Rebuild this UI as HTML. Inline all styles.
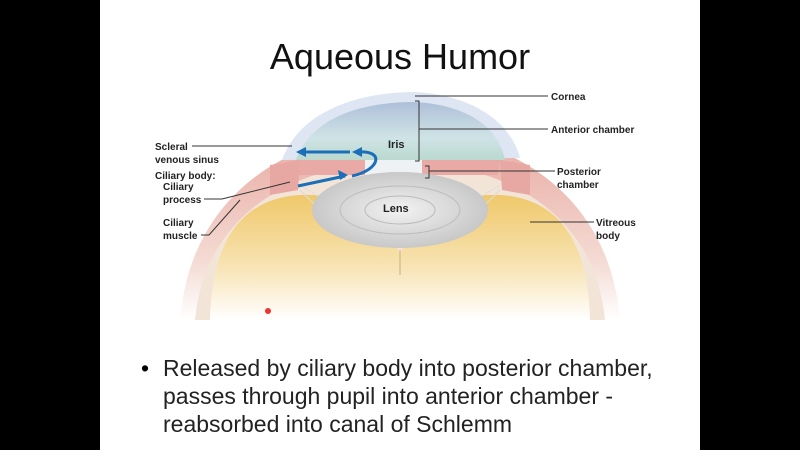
<!DOCTYPE html>
<html><head><style>
body{margin:0;width:800px;height:450px;background:#000;overflow:hidden;font-family:"Liberation Sans",sans-serif}
#s{position:absolute;left:100px;top:0;width:600px;height:450px;background:#fff}
.t{position:absolute;left:0;width:800px;text-align:center;top:36px;font-size:36px;color:#111}
.b{position:absolute;left:163px;top:354px;font-size:23px;line-height:28px;color:#222;white-space:nowrap}
.d{position:absolute;left:141px;top:354px;font-size:23px;line-height:28px}
</style></head><body>
<div id="s"></div>
<svg width="800" height="450" style="position:absolute;left:0;top:0">
<defs>
<linearGradient id="vy" x1="0" y1="0" x2="0" y2="1"><stop offset="0" stop-color="#efc86a"/><stop offset="0.55" stop-color="#f7e2b0"/><stop offset="1" stop-color="#fff"/></linearGradient>
<linearGradient id="sc" x1="0" y1="0" x2="0" y2="1"><stop offset="0" stop-color="#e8a8a0"/><stop offset="0.7" stop-color="#f4dcd4"/><stop offset="1" stop-color="#fff"/></linearGradient>
<linearGradient id="ac" x1="0" y1="0" x2="0" y2="1"><stop offset="0" stop-color="#aebfd8"/><stop offset="0.6" stop-color="#cfe3e6"/><stop offset="1" stop-color="#b8d8cc"/></linearGradient>
<radialGradient id="ln"><stop offset="0" stop-color="#f2f2f2"/><stop offset="1" stop-color="#c8c8c8"/></radialGradient>
</defs>
<path d="M180,320 C190,200 280,135 400,130 C520,135 610,200 620,320 Z" fill="url(#sc)"/>
<path d="M195,320 C205,215 290,165 400,160 C510,165 595,215 605,320 Z" fill="#f3e4d8"/>
<path d="M210,320 C212,230 250,198 300,195 C350,193 385,215 400,255 C415,215 450,193 500,195 C550,198 588,230 590,320 Z" fill="url(#vy)"/>
<path d="M400,250 L400,275" stroke="#d9c08a" stroke-width="1.5"/>
<path d="M282,160 C300,110 360,92 415,92 C470,95 510,120 520,158 Z" fill="#dde6f2"/>
<path d="M295,162 C310,118 360,102 415,102 C465,105 498,125 505,160 Z" fill="url(#ac)"/>
<path d="M295,160 L365,160 L368,175 L296,175 Z" fill="#e9a9a4"/>
<path d="M420,160 L500,160 L498,175 L422,175 Z" fill="#e9a9a4"/>
<path d="M270,165 L300,160 L298,190 L270,195 Z" fill="#e7a8a4"/>
<path d="M500,160 L530,165 L530,195 L502,190 Z" fill="#e7a8a4"/>
<rect x="365" y="160" width="57" height="18" fill="#eef2f4"/>
<g stroke="#ddd" stroke-width="1">
<path d="M300,185 L325,200 M300,190 L320,210 M500,185 L475,200 M500,190 L480,210"/></g>
<ellipse cx="400" cy="210" rx="88" ry="38" fill="url(#ln)"/>
<ellipse cx="400" cy="210" rx="60" ry="24" fill="none" stroke="#bbb"/>
<ellipse cx="400" cy="210" rx="35" ry="14" fill="none" stroke="#bbb"/>
<g fill="none" stroke="#1a6fb8" stroke-width="3">
<path d="M298,186 L345,176"/><path d="M352,176 C380,170 385,150 358,152"/><path d="M350,152 L302,152"/>
</g>
<g fill="#1a6fb8"><path d="M296,152 l10,-5 v10z"/><path d="M352,152 l10,-5 v10z"/><path d="M348,175 l-10,-5 l2,10z"/></g>
<g stroke="#333" stroke-width="1" fill="none">
<path d="M415,96 H548"/><path d="M415,101 h4 v60 h-4 M419,129 H548"/><path d="M425,166 h4 v12 h-4 M429,171 H555"/><path d="M530,222 H594"/>
<path d="M192,146 H292"/><path d="M204,199 H222 L290,182"/><path d="M201,235 H209 L240,200"/>
</g>
<g font-size="10" font-weight="bold" fill="#222">
<text x="551" y="100">Cornea</text><text x="551" y="133">Anterior chamber</text>
<text x="557" y="175">Posterior</text><text x="557" y="188">chamber</text>
<text x="596" y="226">Vitreous</text><text x="596" y="239">body</text>
<text x="155" y="150">Scleral</text><text x="155" y="163">venous sinus</text>
<text x="155" y="179">Ciliary body:</text><text x="163" y="190">Ciliary</text><text x="163" y="203">process</text>
<text x="163" y="226">Ciliary</text><text x="163" y="239">muscle</text>
<text x="388" y="148" font-size="11">Iris</text><text x="383" y="212" font-size="11">Lens</text>
</g>
<circle cx="268" cy="311" r="3" fill="#e33"/>
</svg>
<div class="t">Aqueous Humor</div>
<div class="d">•</div>
<div class="b">Released by ciliary body into posterior chamber,<br>passes through pupil into anterior chamber -<br>reabsorbed into canal of Schlemm</div>
</body></html>
